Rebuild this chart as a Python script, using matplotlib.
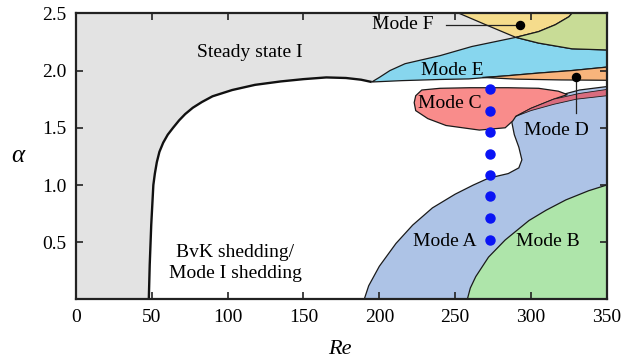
import matplotlib
matplotlib.use('Agg')
import matplotlib.pyplot as plt

plt.rcParams['font.family'] = ['Liberation Serif', 'DejaVu Serif']

# regime boundaries (Re, alpha)
steady_re = [48, 48.6, 49.6, 51, 52, 53.3, 55, 57.5, 60.5, 64, 68, 72, 77, 83, 90, 103, 118, 135, 150,
             165, 178, 188, 195]
steady_alpha = [0, 0.3, 0.65, 1.0, 1.1, 1.2, 1.29, 1.37, 1.44, 1.5, 1.565, 1.62, 1.675, 1.725, 1.775,
                1.83, 1.875, 1.905, 1.925, 1.94, 1.935, 1.92, 1.90]

modeE_low_re = [195, 215, 240, 259, 283, 305, 327, 350]
modeE_low_alpha = [1.90, 1.912, 1.922, 1.927, 1.953, 1.978, 2.00, 2.03]
modeE_top_re = [350, 327, 305, 290, 261, 240, 217, 207, 200]
modeE_top_alpha = [2.18, 2.19, 2.24, 2.29, 2.21, 2.13, 2.06, 2.00, 1.94]

modeF_re = [252.6, 272, 290, 305, 316, 325, 327]
modeF_alpha = [2.5, 2.39, 2.29, 2.34, 2.40, 2.47, 2.5]
olive_re = [290, 305, 316, 325, 327, 350, 350, 327, 305]
olive_alpha = [2.29, 2.34, 2.40, 2.47, 2.5, 2.5, 2.18, 2.19, 2.24]

modeD_re = [268, 283, 305, 327, 350, 350, 320, 290]
modeD_alpha = [1.94, 1.953, 1.978, 2.00, 2.03, 1.915, 1.918, 1.925]

modeA_re = [190, 193, 200, 211, 222, 235, 250, 262, 272, 285, 292, 294, 292, 289, 287.5, 287,
            300, 315, 332, 350, 350]
modeA_alpha = [0, 0.12, 0.29, 0.49, 0.65, 0.80, 0.92, 1.0, 1.06, 1.10, 1.15, 1.22, 1.33, 1.44, 1.54, 1.58,
               1.69, 1.77, 1.83, 1.86, 0]

modeB_re = [258, 260, 263.6, 272, 283, 298.7, 310, 323, 338, 350, 350]
modeB_alpha = [0, 0.1, 0.2, 0.37, 0.52, 0.69, 0.78, 0.87, 0.95, 1.0, 0]

modeC_re = [223, 224, 228, 240, 260, 285, 305, 318, 324, 315, 300, 290, 288, 283, 266, 244, 232, 224]
modeC_alpha = [1.72, 1.78, 1.83, 1.845, 1.85, 1.85, 1.845, 1.82, 1.79, 1.75, 1.67, 1.60, 1.56, 1.50,
               1.48, 1.52, 1.58, 1.65]

band_re = [290, 300, 315, 332, 350, 350, 330, 315, 300]
band_alpha = [1.60, 1.67, 1.75, 1.80, 1.835, 1.78, 1.75, 1.705, 1.65]

# simulation points
dots_re = [273, 273, 273, 273, 273, 273, 273, 273]
dots_alpha = [0.52, 0.71, 0.90, 1.09, 1.27, 1.46, 1.65, 1.84]

fig = plt.figure(figsize=(6.23, 3.61), dpi=100)
ax = fig.add_axes([0.122, 0.1704, 0.852, 0.7927])
ax.set_facecolor('#e3e3e3')

edge = dict(edgecolor='#1a1a1a', linewidth=0.9)

# unsteady (white) region below the steady boundary
ax.fill(steady_re + modeE_low_re[1:] + [350, 48], steady_alpha + modeE_low_alpha[1:] + [0, 0],
        color='white', linewidth=0)
ax.plot(steady_re, steady_alpha, color='#111111', lw=1.7, solid_capstyle='butt')

ax.fill(modeE_low_re + modeE_top_re, modeE_low_alpha + modeE_top_alpha, facecolor='#87d6ee', **edge)
ax.fill(modeF_re, modeF_alpha, facecolor='#f5dc8c', **edge)
ax.fill(olive_re, olive_alpha, facecolor='#c8dc96', **edge)
ax.fill(modeD_re, modeD_alpha, facecolor='#f8b47c', **edge)
ax.fill(modeA_re, modeA_alpha, facecolor='#adc3e6', **edge)
ax.fill(modeB_re, modeB_alpha, facecolor='#aee5aa', **edge)
ax.fill(modeC_re, modeC_alpha, facecolor='#f98c8b', **edge)
ax.fill(band_re, band_alpha, facecolor='#d96c7e', edgecolor='#1a1a1a', linewidth=0.6)

ax.plot(dots_re, dots_alpha, 'o', color='#0a14f5', markersize=6.5, zorder=5)

# annotation leaders
ax.plot([244, 293], [2.40, 2.40], color='#222222', lw=0.9)
ax.plot([293], [2.40], 'o', color='black', markersize=5.8)
ax.plot([329.8, 329.8], [1.945, 1.625], color='#222222', lw=0.9)
ax.plot([329.8], [1.945], 'o', color='black', markersize=5.8)

fs = 14
ax.text(114.5, 2.16, 'Steady state I', fontsize=fs, ha='center', va='center')
ax.text(105, 0.32, 'BvK shedding/\nMode I shedding', fontsize=fs, ha='center', va='center',
        linespacing=1.35)
ax.text(243, 0.505, 'Mode A', fontsize=fs, ha='center', va='center')
ax.text(311, 0.505, 'Mode B', fontsize=fs, ha='center', va='center')
ax.text(246.5, 1.71, 'Mode C', fontsize=fs, ha='center', va='center')
ax.text(317, 1.48, 'Mode D', fontsize=fs, ha='center', va='center')
ax.text(248, 2.00, 'Mode E', fontsize=fs, ha='center', va='center')
ax.text(215.5, 2.40, 'Mode F', fontsize=fs, ha='center', va='center')

ax.set_xlim(0, 350)
ax.set_ylim(0, 2.5)
ax.set_xticks([0, 50, 100, 150, 200, 250, 300, 350])
ax.set_yticks([0.5, 1.0, 1.5, 2.0, 2.5])
ax.set_yticklabels(['0.5', '1.0', '1.5', '2.0', '2.5'])
ax.tick_params(direction='in', length=5, width=1.2, top=True, right=True, labelsize=14, pad=7,
               color='#222222')
for s in ax.spines.values():
    s.set_linewidth(1.6)
    s.set_color('#222222')

fig.text(340 / 623, 1 - 350 / 361, 'Re', fontsize=16, style='italic', ha='center', va='center')
fig.text(18 / 623, 1 - 156 / 361, 'α', fontsize=18, style='italic', ha='center', va='center')

fig.savefig('out.png', dpi=100)
